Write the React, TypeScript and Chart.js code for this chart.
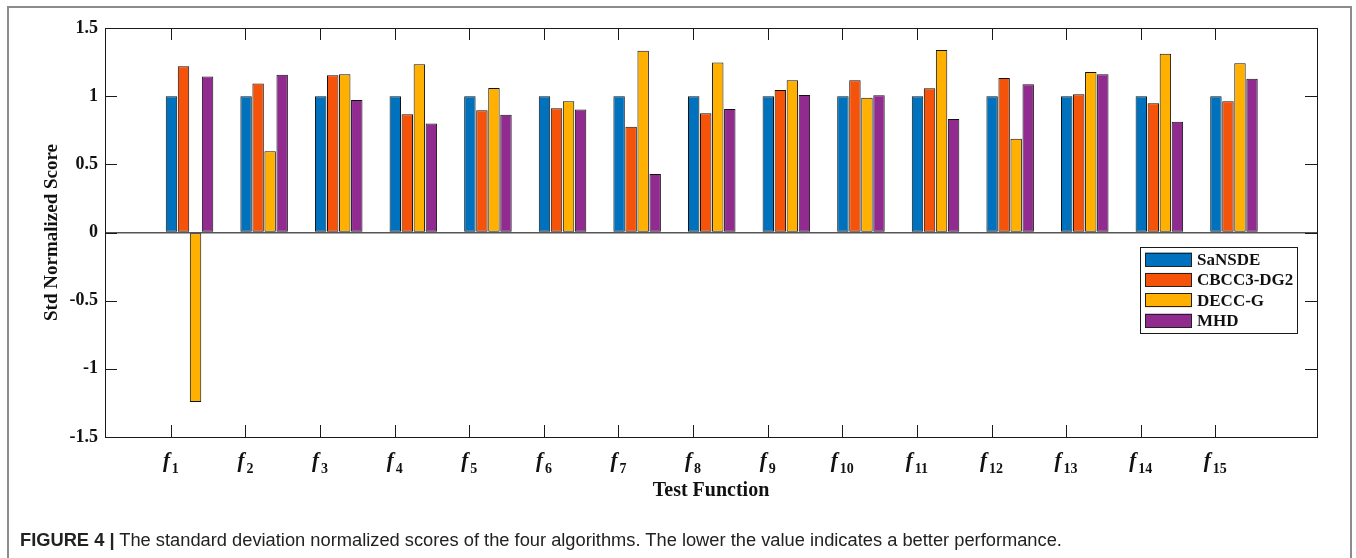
import React, { useEffect, useRef } from "react";
import { Chart, registerables } from "chart.js";

Chart.register(...registerables);

// ---- data ----
const categories = ["1", "2", "3", "4", "5", "6", "7", "8", "9", "10", "11", "12", "13", "14", "15"];
const seriesNames = ["SaNSDE", "CBCC3-DG2", "DECC-G", "MHD"];
const sansde = [1, 1, 1, 1, 1, 1, 1, 1, 1, 1, 1, 1, 1, 1, 1];
const cbcc3dg2 = [1.22, 1.092, 1.154, 0.867, 0.896, 0.911, 0.775, 0.874, 1.046, 1.117, 1.058, 1.134, 1.014, 0.948, 0.962];
const deccg = [-1.243, 0.596, 1.161, 1.235, 1.06, 0.962, 1.333, 1.247, 1.117, 0.989, 1.338, 0.687, 1.178, 1.311, 1.242];
const mhd = [1.144, 1.158, 0.972, 0.8, 0.864, 0.903, 0.429, 0.906, 1.009, 1.007, 0.832, 1.088, 1.161, 0.812, 1.127];
const yTickValues = [-1.5, -1, -0.5, 0, 0.5, 1, 1.5];
const seriesColors = ["#0072BD", "#F5520A", "#FFB000", "#922B8F"];

const X_MIN = 0.117;
const X_MAX = 16.363;
const BAR_SHIFT = 0.25;
const SERIF = "'Liberation Serif', 'Times New Roman', serif";

const decorPlugin = {
  id: "decor",
  afterDraw(chart: any) {
    const { ctx, chartArea } = chart;
    const xs = chart.scales.x;
    const ys = chart.scales.y;
    const { left, right, top, bottom } = chartArea;
    ctx.save();
    // frame
    ctx.strokeStyle = "#1a1a1a";
    ctx.lineWidth = 1;
    ctx.strokeRect(Math.round(left) + 0.5, Math.round(top) + 0.5, Math.round(right - left), Math.round(bottom - top));
    // inward ticks
    const tl = 12;
    ctx.beginPath();
    categories.forEach((_, i) => {
      const px = Math.round(xs.getPixelForValue(i + 1)) + 0.5;
      ctx.moveTo(px, top);
      ctx.lineTo(px, top + tl);
      ctx.moveTo(px, bottom);
      ctx.lineTo(px, bottom - tl);
    });
    yTickValues.forEach((v) => {
      const py = Math.round(ys.getPixelForValue(v)) + 0.5;
      ctx.moveTo(left, py);
      ctx.lineTo(left + tl, py);
      ctx.moveTo(right, py);
      ctx.lineTo(right - tl, py);
    });
    ctx.stroke();

    // x tick labels: italic f with subscript index
    ctx.fillStyle = "#111";
    ctx.textBaseline = "alphabetic";
    categories.forEach((c, i) => {
      const px = xs.getPixelForValue(i + 1);
      ctx.font = `italic bold 21px ${SERIF}`;
      const fw = ctx.measureText("f").width;
      ctx.font = `bold 14px ${SERIF}`;
      const sw = ctx.measureText(c).width;
      const total = fw + 2 + sw;
      const x0 = px - total / 2;
      ctx.font = `italic bold 21px ${SERIF}`;
      ctx.textAlign = "left";
      ctx.fillText("f", x0, bottom + 30);
      ctx.font = `bold 14px ${SERIF}`;
      ctx.fillText(c, x0 + fw + 2, bottom + 36);
    });

    // legend
    const lx = right - 177;
    const ly = ys.getPixelForValue(0) + 14;
    const lw = 157;
    const lh = 86;
    ctx.fillStyle = "#fff";
    ctx.fillRect(lx, ly, lw, lh);
    ctx.strokeStyle = "#1a1a1a";
    ctx.lineWidth = 1;
    ctx.strokeRect(Math.round(lx) + 0.5, Math.round(ly) + 0.5, lw, lh);
    ctx.font = `bold 17px ${SERIF}`;
    ctx.textBaseline = "middle";
    ctx.textAlign = "left";
    seriesNames.forEach((name, s) => {
      const cy = ly + 13 + s * 20.4;
      ctx.fillStyle = seriesColors[s];
      ctx.fillRect(lx + 5, cy - 7, 47, 14);
      ctx.strokeStyle = "#222";
      ctx.strokeRect(Math.round(lx + 5) + 0.5, Math.round(cy - 7) + 0.5, 46, 13);
      ctx.fillStyle = "#111";
      ctx.fillText(name, lx + 57, cy + 1);
    });
    ctx.restore();
  },
};

export default function App() {
  const canvasRef = useRef<HTMLCanvasElement | null>(null);

  useEffect(() => {
    const canvas = canvasRef.current;
    if (!canvas) return;
    const seriesValues = [sansde, cbcc3dg2, deccg, mhd];
    const chart = new Chart(canvas, {
      type: "bar",
      data: {
        datasets: seriesNames.map((name, s) => ({
          label: name,
          data: seriesValues[s].map((v, i) => ({ x: i + 1 + BAR_SHIFT, y: v })),
          backgroundColor: seriesColors[s],
          borderColor: "#111",
          borderWidth: 1,
          borderSkipped: false,
          categoryPercentage: 0.645,
          barPercentage: 0.95,
        })),
      },
      options: {
        animation: false,
        responsive: false,
        devicePixelRatio: 1,
        layout: { padding: { left: 0, top: 28, right: 39, bottom: 0 } },
        plugins: {
          legend: { display: false },
          tooltip: { enabled: false },
        },
        scales: {
          x: {
            type: "linear",
            offset: false,
            min: X_MIN,
            max: X_MAX,
            afterBuildTicks: (scale: any) => {
              scale.ticks = categories.map((_, i) => ({ value: i + 1 }));
            },
            afterFit: (scale: any) => {
              scale.height = 121;
            },
            ticks: { display: false },
            grid: { display: false },
            border: { display: false },
            title: {
              display: true,
              text: "Test Function",
              color: "#111",
              font: { family: SERIF, size: 20, weight: "bold" },
              padding: { top: 0, bottom: 55 },
            },
          },
          y: {
            type: "linear",
            min: -1.5,
            max: 1.5,
            afterBuildTicks: (scale: any) => {
              scale.ticks = yTickValues.map((v) => ({ value: v }));
            },
            afterFit: (scale: any) => {
              scale.width = 105;
            },
            ticks: {
              color: "#111",
              font: { family: SERIF, size: 18, weight: "bold" },
              padding: 7,
              callback: (v: any) => String(Number(v)),
            },
            grid: {
              drawTicks: false,
              color: (c: any) => (c.tick && c.tick.value === 0 ? "#555" : "rgba(0,0,0,0)"),
              lineWidth: 1.5,
            },
            border: { display: false },
            title: {
              display: true,
              text: "Std Normalized Score",
              color: "#111",
              font: { family: SERIF, size: 19, weight: "bold" },
              padding: { top: 41, bottom: 0 },
            },
          },
        },
      },
      plugins: [decorPlugin],
    } as any);
    return () => chart.destroy();
  }, []);

  return (
    <div style={{ position: "fixed", left: 0, top: 0, width: 1356, height: 558, overflow: "hidden", background: "#fff" }}>
      <div
        style={{
          position: "absolute",
          left: 7,
          top: 6,
          width: 1345,
          height: 600,
          border: "2px solid #8c8c8c",
          boxSizing: "border-box",
        }}
      />
      <canvas ref={canvasRef} width={1356} height={558} style={{ position: "absolute", left: 0, top: 0, width: 1356, height: 558 }} />
      <div
        style={{
          position: "absolute",
          left: 20,
          top: 529,
          fontFamily: "'Liberation Sans', Arial, sans-serif",
          fontSize: 18.3,
          lineHeight: "22px",
          color: "#222",
          whiteSpace: "nowrap",
        }}
      >
        <b>FIGURE 4 |</b> The standard deviation normalized scores of the four algorithms. The lower the value indicates a better performance.
      </div>
    </div>
  );
}
